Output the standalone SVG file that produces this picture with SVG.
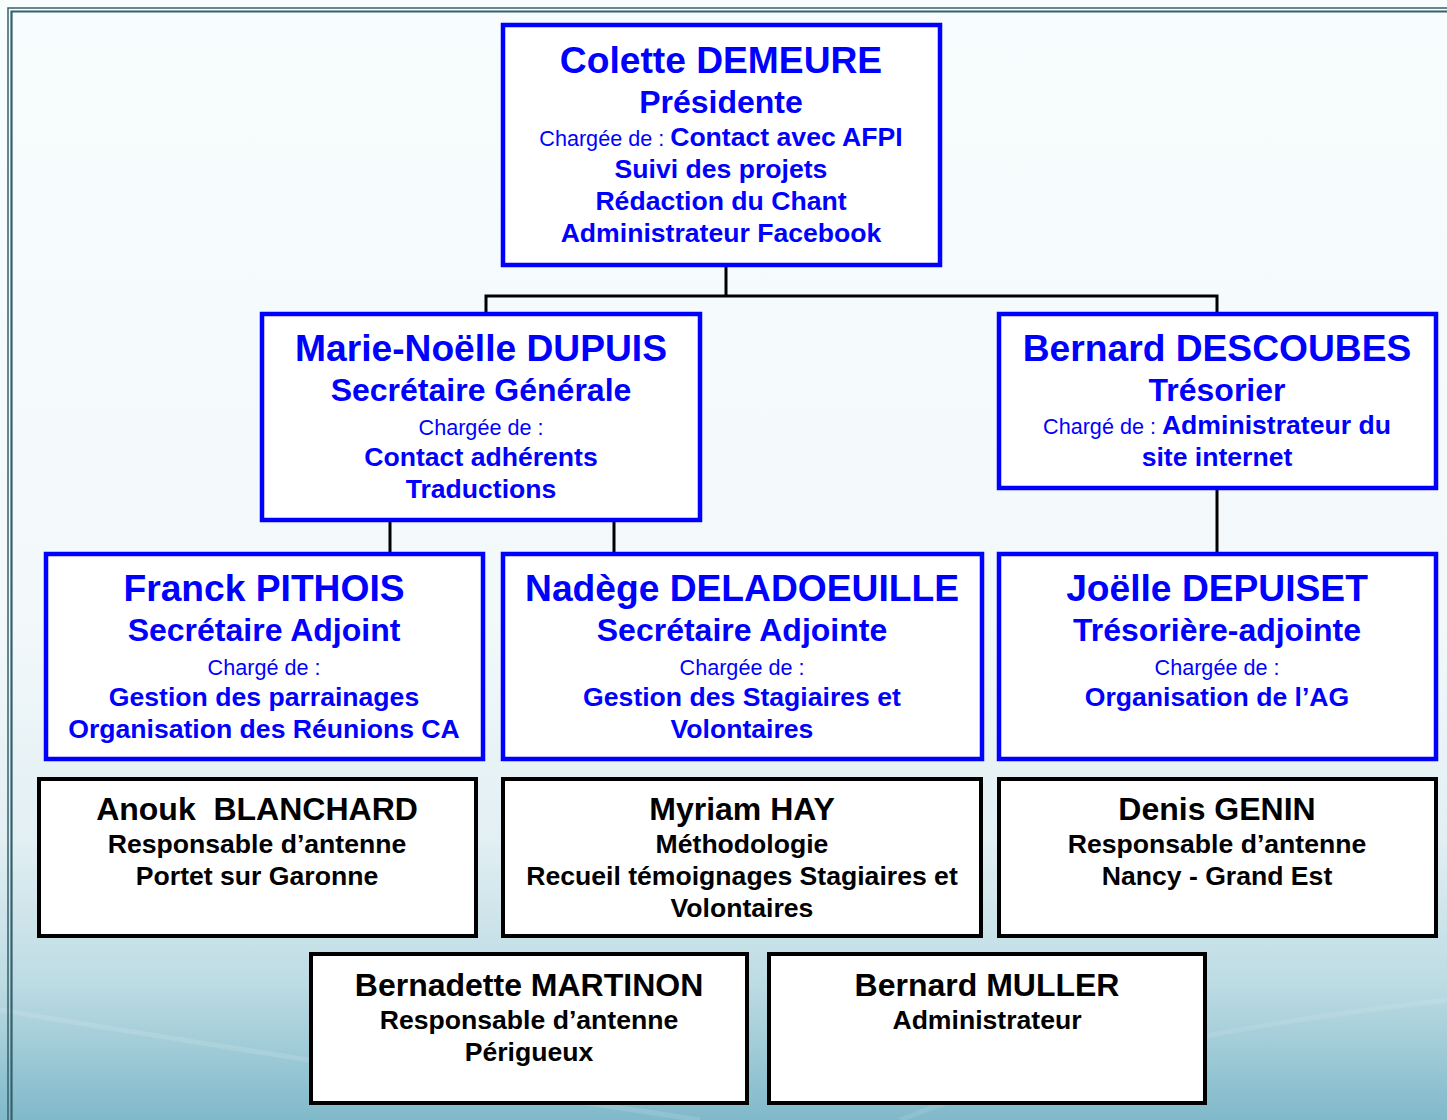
<svg xmlns="http://www.w3.org/2000/svg" width="1447" height="1120" viewBox="0 0 1447 1120">
<defs>
<linearGradient id="bg" x1="0" y1="0" x2="0" y2="1">
<stop offset="0" stop-color="#f7fcfd"/>
<stop offset="0.55" stop-color="#f3f9fb"/>
<stop offset="0.75" stop-color="#e2eff3"/>
<stop offset="0.88" stop-color="#bcdbe3"/>
<stop offset="1" stop-color="#80b9ca"/>
</linearGradient>
<style>
.bb{fill:#fff;stroke:#0000ff;stroke-width:4.5}
.kb{fill:#fff;stroke:#000;stroke-width:4}
text{font-family:"Liberation Sans",Arial,Helvetica,sans-serif;text-anchor:middle;white-space:pre}
.b{fill:#0000ff;font-weight:bold}
.nm{font-size:37.2px}
.ti{font-size:32px}
.ln{font-size:26.6px}
.sm{font-size:21.6px;font-weight:normal}
.k{fill:#000;font-weight:bold}
.kn{font-size:32px}
.conn{stroke:#000;stroke-width:3;fill:none}
</style>
</defs>
<rect x="0" y="0" width="1447" height="1120" fill="url(#bg)"/>
<path d="M0 1010 Q300 1060 700 1120" stroke="#ffffff" stroke-opacity="0.12" stroke-width="5" fill="none"/>
<path d="M1447 1000 Q1100 1040 900 1120" stroke="#ffffff" stroke-opacity="0.1" stroke-width="5" fill="none"/>
<g id="frame" fill="none" stroke="#36606c">
<path d="M8 1120 V8 H1447" stroke-width="1.5"/>
<path d="M11.5 1120 V11.5 H1447" stroke-width="2.2"/>
</g>
<g id="connectors" class="conn">
<path d="M726 267 V296 M484.5 296 H1218.5 M486 296 V312 M1217 296 V312"/>
<path d="M390 522 V552 M614 522 V552"/>
<path d="M1217 490 V552"/>
</g>
<g id="colette">
<rect class="bb" x="503" y="25" width="437" height="240"/>
<text class="b nm" x="721" y="73">Colette DEMEURE</text>
<text class="b ti" x="721" y="113">Présidente</text>
<text class="b ln" x="721" y="146"><tspan class="sm">Chargée de : </tspan>Contact avec AFPI</text>
<text class="b ln" x="721" y="178">Suivi des projets</text>
<text class="b ln" x="721" y="210">Rédaction du Chant</text>
<text class="b ln" x="721" y="242">Administrateur Facebook</text>
</g>
<g id="marie">
<rect class="bb" x="262" y="314" width="438" height="206"/>
<text class="b nm" x="481" y="361">Marie-Noëlle DUPUIS</text>
<text class="b ti" x="481" y="401">Secrétaire Générale</text>
<text class="b sm" x="481" y="435">Chargée de :</text>
<text class="b ln" x="481" y="466">Contact adhérents</text>
<text class="b ln" x="481" y="498">Traductions</text>
</g>
<g id="bernard-descoubes">
<rect class="bb" x="999" y="314" width="437" height="174"/>
<text class="b nm" x="1217" y="361">Bernard DESCOUBES</text>
<text class="b ti" x="1217" y="401">Trésorier</text>
<text class="b ln" x="1217" y="434"><tspan class="sm">Chargé de : </tspan>Administrateur du</text>
<text class="b ln" x="1217" y="466">site internet</text>
</g>
<g id="franck">
<rect class="bb" x="46" y="554" width="437" height="205"/>
<text class="b nm" x="264" y="601">Franck PITHOIS</text>
<text class="b ti" x="264" y="641">Secrétaire Adjoint</text>
<text class="b sm" x="264" y="675">Chargé de :</text>
<text class="b ln" x="264" y="706">Gestion des parrainages</text>
<text class="b ln" x="264" y="738">Organisation des Réunions CA</text>
</g>
<g id="nadege">
<rect class="bb" x="503" y="554" width="479" height="205"/>
<text class="b nm" x="742" y="601">Nadège DELADOEUILLE</text>
<text class="b ti" x="742" y="641">Secrétaire Adjointe</text>
<text class="b sm" x="742" y="675">Chargée de :</text>
<text class="b ln" x="742" y="706">Gestion des Stagiaires et</text>
<text class="b ln" x="742" y="738">Volontaires</text>
</g>
<g id="joelle">
<rect class="bb" x="999" y="554" width="437" height="205"/>
<text class="b nm" x="1217" y="601">Joëlle DEPUISET</text>
<text class="b ti" x="1217" y="641">Trésorière-adjointe</text>
<text class="b sm" x="1217" y="675">Chargée de :</text>
<text class="b ln" x="1217" y="706">Organisation de l’AG</text>
</g>
<g id="anouk">
<rect class="kb" x="39" y="779" width="437" height="157"/>
<text class="k kn" x="257" y="820">Anouk  BLANCHARD</text>
<text class="k ln" x="257" y="853">Responsable d’antenne</text>
<text class="k ln" x="257" y="885">Portet sur Garonne</text>
</g>
<g id="myriam">
<rect class="kb" x="503" y="779" width="478" height="157"/>
<text class="k kn" x="742" y="820">Myriam HAY</text>
<text class="k ln" x="742" y="853">Méthodologie</text>
<text class="k ln" x="742" y="885">Recueil témoignages Stagiaires et</text>
<text class="k ln" x="742" y="917">Volontaires</text>
</g>
<g id="denis">
<rect class="kb" x="999" y="779" width="437" height="157"/>
<text class="k kn" x="1217" y="820">Denis GENIN</text>
<text class="k ln" x="1217" y="853">Responsable d’antenne</text>
<text class="k ln" x="1217" y="885">Nancy - Grand Est</text>
</g>
<g id="bernadette">
<rect class="kb" x="311" y="954" width="436" height="149"/>
<text class="k kn" x="529" y="996">Bernadette MARTINON</text>
<text class="k ln" x="529" y="1029">Responsable d’antenne</text>
<text class="k ln" x="529" y="1061">Périgueux</text>
</g>
<g id="muller">
<rect class="kb" x="769" y="954" width="436" height="149"/>
<text class="k kn" x="987" y="996">Bernard MULLER</text>
<text class="k ln" x="987" y="1029">Administrateur</text>
</g>
</svg>
